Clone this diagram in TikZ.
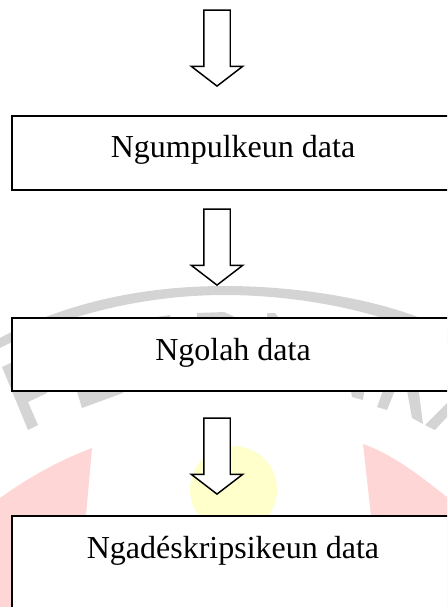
\documentclass[tikz,border=0pt]{standalone}
\usepackage{fontspec}
\setmainfont{Liberation Serif}
\usetikzlibrary{shapes.arrows}
\definecolor{markGray}{RGB}{212,212,212}
\definecolor{markRed}{RGB}{255,214,214}
\definecolor{markYellow}{RGB}{255,255,204}
\tikzset{
  stepbox/.style={draw, line width=1.1pt, fill=white, minimum width=442*0.75pt, inner ysep=0pt, font=\fontsize{24}{24}\selectfont},
  downarrow/.style={draw, line width=1.1pt, fill=white, shape=single arrow, rotate=-90, inner xsep=0pt, inner ysep=12.5*0.75pt, minimum height=76*0.75pt, single arrow head extend=12.5*0.75pt, single arrow tip angle=105, single arrow head indent=0pt}
}
\begin{document}
\begin{tikzpicture}[x=0.75pt,y=-0.75pt]
  \useasboundingbox (0,0) rectangle (447,607);
  \clip (0,0) rectangle (447,607);

  % watermark
  \fill[markYellow] (233.5,489.5) circle (43.5);
  \fill[markRed] (92,448) .. controls (55,462) and (25,480) .. (0,498) -- (0,607) -- (60,607) -- (86,516) -- cycle;
  \fill[markRed] (363,444) .. controls (395,455) and (425,480) .. (447,497) -- (447,607) -- (375,607) -- (371,516) -- cycle;
  \fill[markGray] (0,338) .. controls (70,300) and (150,286) .. (225,286) .. controls (300,286) and (390,300) .. (447,330) -- (447,345) .. controls (390,312) and (300,295) .. (225,295) .. controls (150,295) and (70,312) .. (0,348) -- cycle;
  \fill[markGray] (2,367) -- (60,340) -- (47,393) -- (28,402) -- (38,425) -- (28,430) -- cycle;
  \fill[markGray] (75,385) -- (123,385) -- (123,393) -- (82,408) -- cycle;
  \fill[markGray] (150,318) -- (170,315) -- (171,325) -- (150,325) -- cycle;
  \fill[markGray] (197,313) -- (224,312) -- (237,318) -- (197,325) -- cycle;
  \fill[markGray] (267,313) -- (275,313) -- (279,318) -- (267,325) -- cycle;
  \fill[markGray] (350,385) -- (365,385) -- (363,400) -- (352,397) -- cycle;
  \fill[markGray] (377,407) -- (387,410) -- (397,385) -- (385,385) -- cycle;
  \fill[markGray] (406,385) -- (412,418) -- (423,424) -- (418,385) -- cycle;
  \fill[markGray] (425,425) -- (435,430) -- (447,417) -- (447,403) -- cycle;

  % boxes
  \node[stepbox, text height=41*0.75pt, text depth=33*0.75pt] (Kumpul) at (233,153) {Ngumpulkeun data};
  \node[stepbox, text height=42*0.75pt, text depth=31*0.75pt] (Olah)   at (233,354.5) {Ngolah data};
  \node[stepbox, text height=42*0.75pt, text depth=88*0.75pt] (Deskrip) at (233,581) {Ngadéskripsikeun data};

  % arrows
  \node[downarrow] (ArrowA) at (217,43) {};
  \node[downarrow] (ArrowB) at (217,242) {};
  \node[downarrow] (ArrowC) at (217,451) {};
\end{tikzpicture}
\end{document}
